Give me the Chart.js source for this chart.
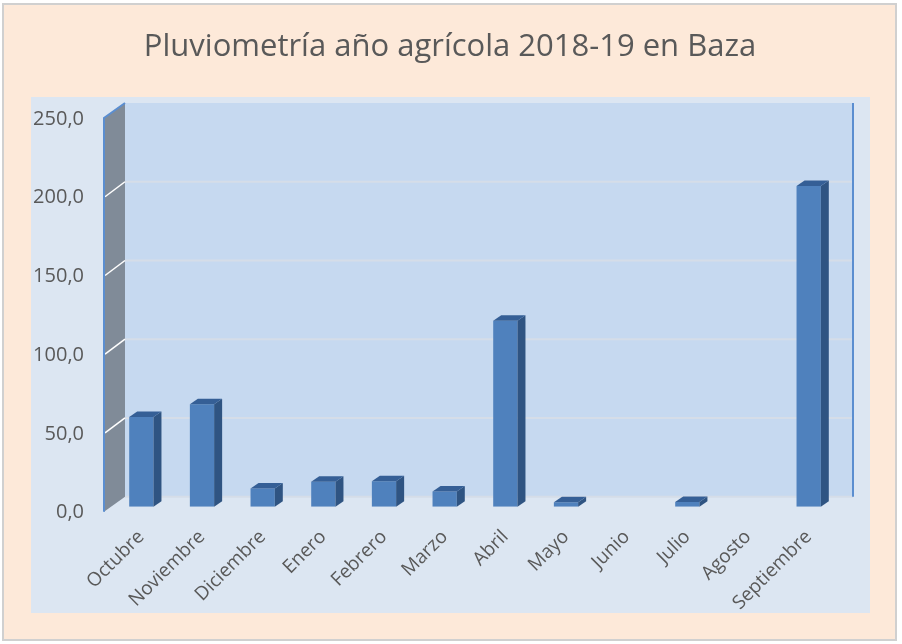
<!DOCTYPE html>
<html>
<head>
<meta charset="utf-8">
<script src="https://cdn.jsdelivr.net/npm/chart.js@4.4.0/dist/chart.umd.min.js"></script>
<style>
    html, body { margin: 0; padding: 0; background: #ffffff; }
    #wrap { width: 902px; height: 644px; position: relative; }
</style>
</head>
<body>
<div id="wrap"><canvas id="lluviaChart"></canvas></div>
<script>
const titulo = 'Pluviometría año agrícola 2018-19 en Baza';
const meses = ['Octubre', 'Noviembre', 'Diciembre', 'Enero', 'Febrero', 'Marzo',
    'Abril', 'Mayo', 'Junio', 'Julio', 'Agosto', 'Septiembre'];
const lluvia = [57.0, 65.0, 11.6, 15.8, 16.2, 9.7, 118.0, 2.8, 0, 3.0, 0, 203.6];
const ejeMin = 0;
const ejeMax = 250;
const ejePaso = 50;

const textColor = '#595959';
const fontName = '"Open Sans", "DejaVu Sans", sans-serif';

// depth of the 3d box, relative to the plane of the bars
const back = { dx: 14, dy: -10 };
const front = { dx: -7, dy: 5 };
const barDepth = { dx: 8, dy: -5.5 };

function poly(ctx, pts, fill) {
    ctx.beginPath();
    ctx.moveTo(pts[0][0], pts[0][1]);
    for (let i = 1; i < pts.length; i++) ctx.lineTo(pts[i][0], pts[i][1]);
    ctx.closePath();
    ctx.fillStyle = fill;
    ctx.fill();
}

const excel3d = {
    id: 'excel3d',
    beforeDraw(chart) {
        const ctx = chart.ctx;
        ctx.save();
        ctx.fillStyle = '#ffffff';
        ctx.fillRect(0, 0, chart.width, chart.height);
        // chart area (peach)
        ctx.fillStyle = '#fde9d9';
        ctx.fillRect(3, 4, 893, 636);
        ctx.strokeStyle = '#d0d0d0';
        ctx.lineWidth = 2;
        ctx.strokeRect(3, 4, 893, 636);
        // plot area
        ctx.fillStyle = '#dce6f2';
        ctx.fillRect(31, 97, 839, 516);
        // title
        ctx.fillStyle = textColor;
        ctx.font = '31px ' + fontName;
        ctx.textAlign = 'center';
        ctx.textBaseline = 'alphabetic';
        ctx.fillText(titulo, 450, 56);
        ctx.restore();
    },
    beforeDatasetsDraw(chart) {
        const ctx = chart.ctx;
        const x = chart.scales.x;
        const y = chart.scales.y;
        const L = x.left, R = x.right;
        const y0 = y.getPixelForValue(ejeMin);
        const yT = y.getPixelForValue(ejeMax);
        ctx.save();
        // back wall
        ctx.fillStyle = '#c6d9f0';
        ctx.fillRect(L + back.dx, yT + back.dy, R - L, y0 - yT);
        // back wall gridlines
        ctx.strokeStyle = '#d5dde8';
        ctx.lineWidth = 2;
        for (let v = ejeMin + ejePaso; v < ejeMax; v += ejePaso) {
            const py = y.getPixelForValue(v) + back.dy;
            ctx.beginPath();
            ctx.moveTo(L + back.dx, py);
            ctx.lineTo(R + back.dx, py);
            ctx.stroke();
        }
        ctx.beginPath();
        ctx.moveTo(L + back.dx, y0 + back.dy);
        ctx.lineTo(R + back.dx, y0 + back.dy);
        ctx.stroke();
        // left side wall
        poly(ctx, [
            [L + front.dx, yT + front.dy],
            [L + back.dx, yT + back.dy],
            [L + back.dx, y0 + back.dy],
            [L + front.dx, y0 + front.dy]
        ], '#808b98');
        ctx.strokeStyle = '#ffffff';
        ctx.lineWidth = 1.5;
        for (let v = ejeMin + ejePaso; v < ejeMax; v += ejePaso) {
            const py = y.getPixelForValue(v);
            ctx.beginPath();
            ctx.moveTo(L + front.dx + 1, py + front.dy);
            ctx.lineTo(L + back.dx, py + back.dy);
            ctx.stroke();
        }
        ctx.strokeStyle = '#5b8ed0';
        ctx.lineWidth = 2;
        ctx.beginPath();
        ctx.moveTo(L + front.dx, y0 + front.dy);
        ctx.lineTo(L + front.dx, yT + front.dy);
        ctx.lineTo(L + back.dx, yT + back.dy);
        ctx.stroke();
        // right edge of back wall
        ctx.beginPath();
        ctx.moveTo(R + back.dx, yT + back.dy);
        ctx.lineTo(R + back.dx, y0 + back.dy);
        ctx.stroke();
        ctx.restore();
    },
    afterDatasetsDraw(chart) {
        const ctx = chart.ctx;
        const meta = chart.getDatasetMeta(0);
        ctx.save();
        meta.data.forEach((bar, i) => {
            if (!lluvia[i]) return;
            const p = bar.getProps(['x', 'y', 'base', 'width'], true);
            const l = p.x - p.width / 2, r = p.x + p.width / 2;
            // side
            poly(ctx, [
                [r, p.y], [r + barDepth.dx, p.y + barDepth.dy],
                [r + barDepth.dx, p.base + barDepth.dy], [r, p.base]
            ], '#2f5482');
            // top
            poly(ctx, [
                [l, p.y], [l + barDepth.dx, p.y + barDepth.dy],
                [r + barDepth.dx, p.y + barDepth.dy], [r, p.y]
            ], '#355f96');
        });
        ctx.restore();
    }
};

new Chart(document.getElementById('lluviaChart'), {
    type: 'bar',
    data: {
        labels: meses,
        datasets: [{
            label: 'Pluviometría',
            data: lluvia,
            backgroundColor: '#4f81bd',
            borderWidth: 0,
            barPercentage: 0.4,
            categoryPercentage: 1.0
        }]
    },
    options: {
        responsive: true,
        maintainAspectRatio: false,
        animation: false,
        layout: { padding: { top: 113, left: 0, right: 63, bottom: 0 } },
        plugins: {
            legend: { display: false },
            title: { display: false },
            tooltip: { enabled: false }
        },
        scales: {
            x: {
                grid: { display: false, drawTicks: false },
                border: { display: false },
                ticks: {
                    autoSkip: false,
                    maxRotation: 45,
                    minRotation: 45,
                    padding: 19,
                    color: textColor,
                    font: { family: fontName, size: 19 }
                },
                afterFit(scale) { scale.height = 137.3; }
            },
            y: {
                min: ejeMin,
                max: ejeMax,
                grid: { display: false, drawTicks: false },
                border: { display: false },
                ticks: {
                    stepSize: ejePaso,
                    padding: 27,
                    labelOffset: 6,
                    color: textColor,
                    font: { family: fontName, size: 20 },
                    callback: v => v.toFixed(1).replace('.', ',')
                },
                afterFit(scale) { scale.width = 111; }
            }
        }
    },
    plugins: [excel3d]
});
</script>
</body>
</html>
